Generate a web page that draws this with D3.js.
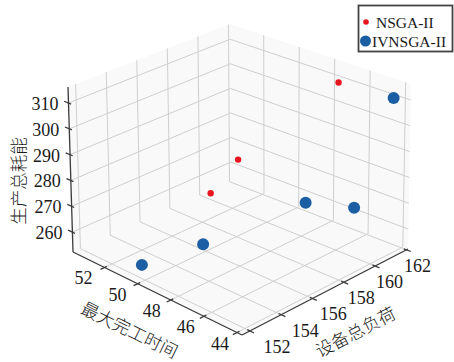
<!DOCTYPE html>
<html>
<head>
<meta charset="utf-8">
<script src="https://cdn.jsdelivr.net/npm/d3@7"></script>
<style>
  body { margin: 0; background: #fff; }
  svg { display: block; }
</style>
</head>
<body>
<div id="chart"></div>
<script>
// tick values
const xTicks = [44, 46, 48, 50, 52];
const yTicks = [152, 154, 156, 158, 160, 162];
const zTicks = [260, 270, 280, 290, 300, 310];

// NSGA-II solutions: makespan, total machine load, energy
const nsgaMakespan = [48.9, 48.2, 46.9];
const nsgaLoad = [155.1, 156.1, 161.1];
const nsgaEnergy = [280, 292, 312];

// IVNSGA-II solutions
const ivMakespan = [50.1, 48.9, 47.4, 46.2, 44.4];
const ivLoad = [151.9, 154.6, 159.6, 161.4, 161.8];
const ivEnergy = [258, 262, 268, 264, 310];

const seriesNames = ['NSGA-II', 'IVNSGA-II'];
const xTitle = '最大完工时间';
const yTitle = '设备总负荷';
const zTitle = '生产总耗能';

const width = 454;
const height = 362;
const numFont = '"Liberation Serif", "DejaVu Serif", serif';
const cjkFont = '"Noto Sans CJK SC", sans-serif';

// data -> unit cube
const x = d3.scaleLinear().domain([43.7, 53.9]).range([0, 1]);
const y = d3.scaleLinear().domain([151.5, 162.1]).range([0, 1]);
const z = d3.scaleLinear().domain([252.3, 316.2]).range([0, 1]);

// screen position of the cube corners (u = x, v = y, w = z)
const corners = {
    '000': [242, 335], '100': [73, 252], '010': [408, 249], '110': [231, 181],
    '001': [245, 156], '101': [68, 87], '011': [411, 84], '111': [230, 24]
};

// trilinear blend of the corners, gives a mild perspective look
function project(u, v, w) {
    let px = 0, py = 0;
    for (const i of [0, 1]) for (const j of [0, 1]) for (const k of [0, 1]) {
        const wt = (i ? u : 1 - u) * (j ? v : 1 - v) * (k ? w : 1 - w);
        const c = corners[`${i}${j}${k}`];
        px += wt * c[0];
        py += wt * c[1];
    }
    return [px, py];
}

const svg = d3.select('#chart')
    .append('svg')
    .attr('width', width)
    .attr('height', height)
    .attr('viewBox', [0, 0, width, height]);

// panes
const panes = [
    [[0, 0, 0], [1, 0, 0], [1, 1, 0], [0, 1, 0]],
    [[1, 0, 0], [1, 1, 0], [1, 1, 1], [1, 0, 1]],
    [[0, 1, 0], [1, 1, 0], [1, 1, 1], [0, 1, 1]]
];
svg.append('g')
    .selectAll('path')
    .data(panes)
    .join('path')
    .attr('d', (d) => 'M' + d.map((p) => project(...p).join(',')).join('L') + 'Z')
    .attr('fill', '#f2f2f2')
    .attr('fill-opacity', 0.45)
    .attr('stroke', 'none');

// grid
const grid = [];
xTicks.forEach((t) => {
    const u = x(t);
    grid.push([[u, 0, 0], [u, 1, 0]], [[u, 1, 0], [u, 1, 1]]);
});
yTicks.forEach((t) => {
    const v = y(t);
    grid.push([[0, v, 0], [1, v, 0]], [[1, v, 0], [1, v, 1]]);
});
zTicks.forEach((t) => {
    const w = z(t);
    grid.push([[1, 0, w], [1, 1, w]], [[0, 1, w], [1, 1, w]]);
});
svg.append('g')
    .attr('stroke', '#cfcfcf')
    .attr('stroke-width', 1)
    .selectAll('line')
    .data(grid)
    .join('line')
    .attr('x1', (d) => project(...d[0])[0])
    .attr('y1', (d) => project(...d[0])[1])
    .attr('x2', (d) => project(...d[1])[0])
    .attr('y2', (d) => project(...d[1])[1]);

// axis lines
const axes = [
    [[0, 0, 0], [1, 0, 0]],
    [[0, 0, 0], [0, 1, 0]],
    [[1, 0, 0], [1, 0, 1]]
];
const axisG = svg.append('g').attr('stroke', '#3a3a3a').attr('stroke-width', 1.3);
axisG.selectAll('line.axis')
    .data(axes)
    .join('line')
    .attr('class', 'axis')
    .attr('x1', (d) => project(...d[0])[0])
    .attr('y1', (d) => project(...d[0])[1])
    .attr('x2', (d) => project(...d[1])[0])
    .attr('y2', (d) => project(...d[1])[1]);

// tick marks
const tickSegs = [
    ...xTicks.map((t) => [[x(t), -0.025, 0], [x(t), 0.015, 0]]),
    ...yTicks.map((t) => [[-0.025, y(t), 0], [0.015, y(t), 0]]),
    ...zTicks.map((t) => [[1.025, 0, z(t)], [0.985, 0, z(t)]])
];
axisG.selectAll('line.tick')
    .data(tickSegs)
    .join('line')
    .attr('class', 'tick')
    .attr('x1', (d) => project(...d[0])[0])
    .attr('y1', (d) => project(...d[0])[1])
    .attr('x2', (d) => project(...d[1])[0])
    .attr('y2', (d) => project(...d[1])[1]);

// tick labels, offset from the tick drifts a little along each axis
const labelG = svg.append('g')
    .attr('font-family', numFont)
    .attr('font-size', 18)
    .attr('fill', '#1a1a1a')
    .attr('dominant-baseline', 'central');

labelG.selectAll('text.xl')
    .data(xTicks)
    .join('text')
    .attr('class', 'xl')
    .attr('text-anchor', 'middle')
    .attr('x', (d) => project(x(d), 0, 0)[0] - 17 - 5 * x(d))
    .attr('y', (d) => project(x(d), 0, 0)[1] + 11)
    .text((d) => d);

labelG.selectAll('text.yl')
    .data(yTicks)
    .join('text')
    .attr('class', 'yl')
    .attr('text-anchor', 'middle')
    .attr('x', (d) => project(0, y(d), 0)[0] + 28 - 17 * y(d))
    .attr('y', (d) => project(0, y(d), 0)[1] + 16)
    .text((d) => d);

labelG.selectAll('text.zl')
    .data(zTicks)
    .join('text')
    .attr('class', 'zl')
    .attr('text-anchor', 'end')
    .attr('x', (d) => project(1, 0, z(d))[0] - 10)
    .attr('y', (d) => project(1, 0, z(d))[1] + 1)
    .text((d) => d);

// axis titles
const titleG = svg.append('g')
    .attr('font-family', cjkFont)
    .attr('font-size', 17.5)
    .attr('font-weight', 300)
    .attr('fill', '#1a1a1a')
    .attr('text-anchor', 'middle')
    .attr('dominant-baseline', 'central');

titleG.append('text')
    .attr('transform', 'translate(130,329) rotate(26)')
    .text(xTitle);
titleG.append('text')
    .attr('transform', 'translate(355,331) rotate(-27.5)')
    .text(yTitle);
titleG.append('text')
    .attr('transform', 'translate(17,181) rotate(-90)')
    .text(zTitle);

// points
const nsga = nsgaMakespan.map((d, i) => ({ mk: d, load: nsgaLoad[i], en: nsgaEnergy[i] }));
const iv = ivMakespan.map((d, i) => ({ mk: d, load: ivLoad[i], en: ivEnergy[i] }));

svg.append('g')
    .attr('fill', '#e8161e')
    .selectAll('circle')
    .data(nsga)
    .join('circle')
    .attr('cx', (d) => project(x(d.mk), y(d.load), z(d.en))[0])
    .attr('cy', (d) => project(x(d.mk), y(d.load), z(d.en))[1])
    .attr('r', 3.2);

svg.append('g')
    .attr('fill', '#1b5ea4')
    .selectAll('circle')
    .data(iv)
    .join('circle')
    .attr('cx', (d) => project(x(d.mk), y(d.load), z(d.en))[0])
    .attr('cy', (d) => project(x(d.mk), y(d.load), z(d.en))[1])
    .attr('r', 6);

// legend
const legend = svg.append('g');
legend.append('rect')
    .attr('x', 358.5)
    .attr('y', 5.5)
    .attr('width', 94)
    .attr('height', 46)
    .attr('fill', '#fff')
    .attr('stroke', '#444')
    .attr('stroke-width', 1.8);
legend.append('circle').attr('cx', 366).attr('cy', 22).attr('r', 2.8).attr('fill', '#e8161e');
legend.append('circle').attr('cx', 365.5).attr('cy', 41).attr('r', 5.5).attr('fill', '#1b5ea4');
legend.selectAll('text')
    .data(seriesNames)
    .join('text')
    .attr('x', (d, i) => (i === 0 ? 376 : 372))
    .attr('y', (d, i) => (i === 0 ? 22 : 41))
    .attr('dominant-baseline', 'central')
    .attr('font-family', numFont)
    .attr('font-size', 15.5)
    .attr('fill', '#1a1a1a')
    .text((d) => d);
</script>
</body>
</html>
